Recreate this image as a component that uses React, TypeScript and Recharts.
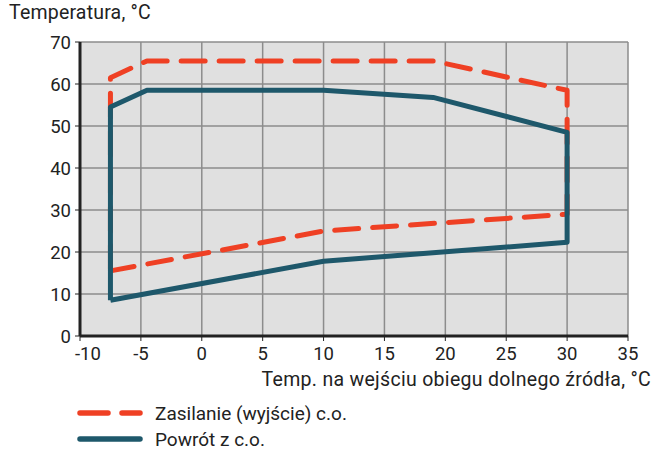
import { CartesianGrid, Line, LineChart, XAxis, YAxis } from 'recharts';

// Supply (red, dashed) envelope, traced clockwise from the lower-left corner
const supplyX = [-7.5, 10, 30, 30, 19, -4.5, -7.5, -7.5];
const supplyY = [15.5, 25, 29, 58.5, 65.5, 65.5, 61.5, 15.5];

// Return (blue, solid) envelope
const returnX = [-7.5, 10, 30, 30, 19, 10, -4.5, -7.5, -7.5];
const returnY = [8.5, 17.8, 22.3, 48.5, 56.8, 58.5, 58.5, 54.5, 8.5];

const xTicks = [-10, -5, 0, 5, 10, 15, 20, 25, 30, 35];
const yTicks = [0, 10, 20, 30, 40, 50, 60, 70];

const seriesNames = ['Zasilanie (wyjście) c.o.', 'Powrót z c.o.'];
const yTitle = 'Temperatura, °C';
const xTitle = 'Temp. na wejściu obiegu dolnego źródła, °C';

const supplyData = supplyX.map((x, i) => ({ x, y: supplyY[i] }));
const returnData = returnX.map((x, i) => ({ x, y: returnY[i] }));

const RED = '#ef4024';
const BLUE = '#1e586b';
const FONT = 'Roboto, sans-serif';

// first label is pushed right so it clears the y-axis "0"
const XTick = (props: any) => {
  const { x, y, payload, index } = props;
  const first = index === 0;
  return (
    <text
      x={first ? x - 5 : x}
      y={y + 17}
      textAnchor={first ? 'start' : 'middle'}
      fill="#222"
      fontSize={18.5}
      fontFamily={FONT}
    >
      {payload.value}
    </text>
  );
};

const LegendBox = () => (
  <div style={{ position: 'absolute', left: 70, top: 400, fontFamily: FONT, fontSize: 19, color: '#222' }}>
    <div style={{ display: 'flex', alignItems: 'center', height: 26 }}>
      <svg width={80} height={10}>
        <line x1={10} y1={5} x2={70} y2={5} stroke={RED} strokeWidth={5.5} strokeLinecap="round" strokeDasharray="28 14" />
      </svg>
      <span style={{ marginLeft: 5 }}>{seriesNames[0]}</span>
    </div>
    <div style={{ display: 'flex', alignItems: 'center', height: 26 }}>
      <svg width={80} height={10}>
        <line x1={10} y1={5} x2={70} y2={5} stroke={BLUE} strokeWidth={5.5} strokeLinecap="round" />
      </svg>
      <span style={{ marginLeft: 5 }}>{seriesNames[1]}</span>
    </div>
  </div>
);

export default function App() {
  return (
    <div style={{ position: 'absolute', left: 0, top: 0, width: 658, height: 452, background: '#fff' }}>
      <LineChart width={658} height={452} margin={{ top: 42, right: 30, left: 0, bottom: 86 }}>
        <CartesianGrid stroke="#8c8c8c" strokeWidth={1.5} fill="#e0e0e0" horizontalValues={yTicks} verticalValues={xTicks} />
        <XAxis
          type="number"
          dataKey="x"
          domain={[-10, 35]}
          ticks={xTicks}
          interval={0}
          height={30}
          axisLine={{ stroke: '#222', strokeWidth: 3 }}
          tickLine={{ stroke: '#222' }}
          tickSize={5}
          tick={<XTick />}
        />
        <YAxis
          type="number"
          dataKey="y"
          domain={[0, 70]}
          ticks={yTicks}
          interval={0}
          width={80}
          axisLine={{ stroke: '#222', strokeWidth: 3 }}
          tickLine={{ stroke: '#222' }}
          tickSize={5}
          tick={{ fill: '#222', fontSize: 18.5, fontFamily: FONT, dx: -2 }}
        />
        <Line
          data={supplyData}
          dataKey="y"
          stroke={RED}
          strokeWidth={5}
          strokeDasharray="24 14"
          strokeLinecap="round"
          strokeLinejoin="round"
          dot={false}
          activeDot={false}
          isAnimationActive={false}
        />
        <Line
          data={returnData}
          dataKey="y"
          stroke={BLUE}
          strokeWidth={5}
          strokeLinejoin="round"
          dot={false}
          activeDot={false}
          isAnimationActive={false}
        />
      </LineChart>
      <div style={{ position: 'absolute', left: 9, top: 1, fontFamily: FONT, fontSize: 19.5, letterSpacing: 0.2, color: '#222' }}>{yTitle}</div>
      <div style={{ position: 'absolute', right: 7, top: 368, fontFamily: FONT, fontSize: 19.5, letterSpacing: 0.3, color: '#222' }}>{xTitle}</div>
      <LegendBox />
    </div>
  );
}
